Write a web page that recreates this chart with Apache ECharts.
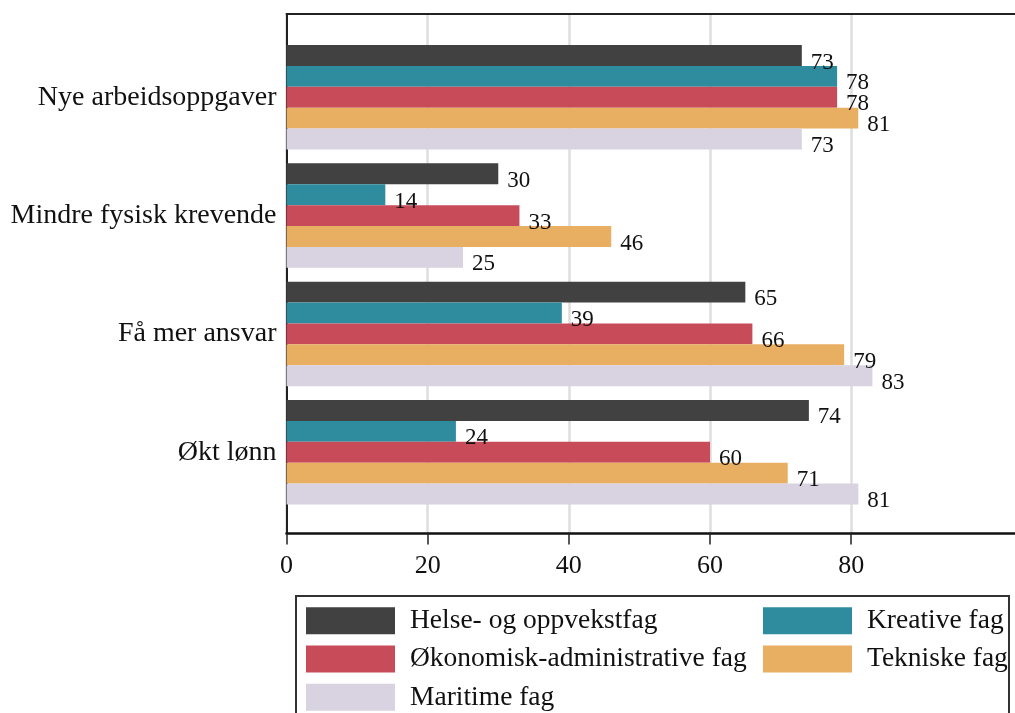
<!DOCTYPE html>
<html>
<head>
<meta charset="utf-8">
<script src="https://cdn.jsdelivr.net/npm/echarts@6/dist/echarts.min.js"></script>
<style>
  html, body { margin: 0; padding: 0; background: #fff; }
  #chart { width: 1015px; height: 713px; }
</style>
</head>
<body>
<div id="chart"></div>
<script>
const categories = ['Nye arbeidsoppgaver', 'Mindre fysisk krevende', 'Få mer ansvar', 'Økt lønn']
const seriesNames = [
  'Helse- og oppvekstfag',
  'Kreative fag',
  'Økonomisk-administrative fag',
  'Tekniske fag',
  'Maritime fag',
]
const helse = [73, 30, 65, 74]
const kreative = [78, 14, 39, 24]
const okonomisk = [78, 33, 66, 60]
const tekniske = [81, 46, 79, 71]
const maritime = [73, 25, 83, 81]
const tickValues = [0, 20, 40, 60, 80]

const colors = ['#414141', '#2e8c9e', '#c84b5a', '#e8ae62', '#d9d2e0']
const values = [helse, kreative, okonomisk, tekniske, maritime]
const font = '"Liberation Serif", serif'
const axisMax = 103.2

const chart = echarts.init(document.getElementById('chart'))

chart.setOption({
  animation: false,
  textStyle: { fontFamily: font, color: '#111' },
  grid: [
    // frame with x axis
    { left: 286.5, right: 0, top: 14, bottom: 179.5 },
    // bars
    { left: 286.5, right: 0, top: 38.1, bottom: 201.6 },
  ],
  xAxis: [
    {
      gridIndex: 0,
      type: 'value',
      min: 0,
      max: axisMax,
      interval: 20,
      axisLine: { show: true, lineStyle: { color: '#111', width: 2.5 } },
      axisTick: { show: true, customValues: tickValues, length: 11, lineStyle: { color: '#222', width: 1.5 } },
      axisLabel: { customValues: tickValues, margin: 20, fontSize: 26, color: '#111', fontFamily: font },
      splitLine: { show: true, lineStyle: { color: '#dedede', width: 2.5 } },
    },
    { gridIndex: 1, type: 'value', min: 0, max: axisMax, show: false },
    // top frame line
    {
      gridIndex: 0,
      type: 'value',
      position: 'top',
      min: 0,
      max: axisMax,
      axisLine: { show: true, lineStyle: { color: '#222', width: 2 } },
      axisTick: { show: false },
      axisLabel: { show: false },
      splitLine: { show: false },
    },
  ],
  yAxis: [
    {
      gridIndex: 0,
      type: 'value',
      axisLine: { show: true, lineStyle: { color: '#222', width: 2 } },
      axisTick: { show: false },
      axisLabel: { show: false },
      splitLine: { show: false },
    },
    {
      gridIndex: 1,
      type: 'category',
      inverse: true,
      data: categories,
      axisLine: { show: false },
      axisTick: { show: false },
      axisLabel: { margin: 10, fontSize: 28, color: '#111', fontFamily: font, padding: [8, 0, 0, 0] },
    },
  ],
  legend: [
    {
      data: [seriesNames[0], seriesNames[2], seriesNames[4]],
      orient: 'vertical',
      left: 306, top: 606.7,
      padding: 0,
      itemWidth: 89, itemHeight: 27, itemGap: 10.3,
      icon: 'rect',
      selectedMode: false,
      textStyle: { fontSize: 27.5, color: '#111', fontFamily: font, padding: [4, 0, 0, 10] },
    },
    {
      data: [seriesNames[1], seriesNames[3]],
      orient: 'vertical',
      left: 763, top: 606.7,
      padding: 0,
      itemWidth: 89, itemHeight: 27, itemGap: 10.3,
      icon: 'rect',
      selectedMode: false,
      textStyle: { fontSize: 27.5, color: '#111', fontFamily: font, padding: [4, 0, 0, 10] },
    },
  ],
  graphic: [
    {
      type: 'rect',
      shape: { x: 296, y: 596, width: 713, height: 140 },
      style: { fill: 'none', stroke: '#333', lineWidth: 2 },
      silent: true,
    },
  ],
  series: values.map((data, i) => ({
    name: seriesNames[i],
    type: 'bar',
    xAxisIndex: 1,
    yAxisIndex: 1,
    data,
    barGap: '0%',
    barCategoryGap: '11.7%',
    itemStyle: { color: colors[i] },
    label: {
      show: true,
      position: 'right',
      distance: 9,
      offset: [0, 7],
      fontSize: 23,
      color: '#111',
      fontFamily: font,
    },
  })),
})
</script>
</body>
</html>
